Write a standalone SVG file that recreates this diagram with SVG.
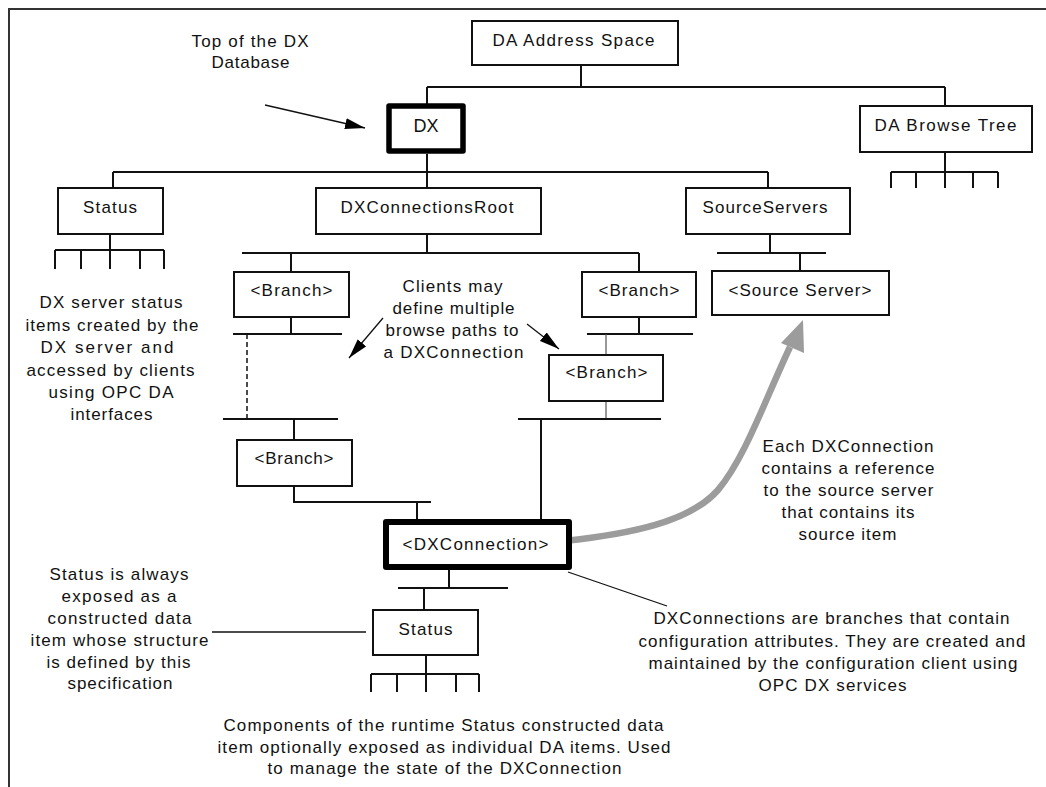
<svg xmlns="http://www.w3.org/2000/svg" width="1046" height="787" viewBox="0 0 1046 787">
  <style>
    text { font-family: "Liberation Sans", Arial, sans-serif; font-size: 17px; fill: #111; text-anchor: middle; }
    .box { fill: #fff; stroke: #111; stroke-width: 2; }
    .key { fill: #fff; stroke: #000; stroke-linejoin: round; }
    .ln { fill: none; stroke: #111; stroke-width: 2; }
    .thin { fill: none; stroke: #555; stroke-width: 1.2; }
    .dash { fill: none; stroke: #111; stroke-width: 1.5; stroke-dasharray: 5 3; }
    .note { fill: none; stroke: #111; stroke-width: 1.3; }
    .ref { fill: none; stroke: #9c9c9c; stroke-width: 6.5; }
  </style>
  <defs>
    <marker id="head" viewBox="0 0 20 11" refX="20" refY="5.5" markerWidth="20" markerHeight="11" markerUnits="userSpaceOnUse" orient="auto">
      <path d="M0,0 L20,5.5 L0,11 z" fill="#000"/>
    </marker>
  </defs>

  <rect width="1046" height="787" fill="#fff"/>
  <!-- page frame -->
  <path d="M9,787 V9 H1046" fill="none" stroke="#333" stroke-width="2"/>

  <g id="connectors">
    <!-- address space to DX and browse tree -->
    <path class="ln" d="M581,65 V87 M427,87 H945 M427,87 V104 M945,87 V106"/>
    <!-- DX children -->
    <path class="ln" d="M427,154 V172 M113,172 H768 M113,172 V188 M427,172 V188 M768,172 V188"/>
    <!-- browse tree rake -->
    <path class="ln" d="M945,152 V172 M891,172 H998 M891,172 V188 M916,172 V188 M945,172 V188 M973,172 V188 M998,172 V188"/>
    <!-- status items rake -->
    <path class="ln" d="M110,234 V250 M55,250 H164 M55,250 V269 M81,250 V269 M110,250 V269 M140,250 V269 M164,250 V269"/>
    <!-- connections root -->
    <path class="ln" d="M427,234 V253 M242,253 H639 M291,253 V272 M639,253 V272"/>
    <!-- source servers -->
    <path class="ln" d="M770,234 V253 M717,253 H826 M800,253 V271"/>
    <!-- left browse path -->
    <path class="ln" d="M291,317 V334 M233,334 H342"/>
    <path class="dash" d="M247,334 V419"/>
    <path class="ln" d="M223,419 H338 M294,419 V440 M294,486 V502 H431 M417,502 V520"/>
    <!-- right browse path -->
    <path class="ln" d="M639,317 V334 M587,334 H693"/>
    <path class="thin" d="M606,334 V355 M606,401 V419"/>
    <path class="ln" d="M518,419 H661 M541,419 V520"/>
    <!-- connection status -->
    <path class="ln" d="M449,570 V588 M398,588 H508 M424,588 V610"/>
    <path class="ln" d="M426,655 V674 M371,674 H479 M371,674 V692 M397,674 V692 M426,674 V692 M456,674 V692 M479,674 V692"/>
    <!-- reference to source server -->
    <path class="ref" d="M564,541 C630,534 690,522 718,490 C745,458 765,400 790,347"/>
    <polygon points="803,320 781,343 804,353" fill="#9c9c9c"/>
    <!-- callouts -->
    <path class="note" d="M265,105 L365,128" marker-end="url(#head)"/>
    <path class="note" d="M383,318 L349,358" marker-end="url(#head)"/>
    <path class="note" d="M527,324 L559,349" marker-end="url(#head)"/>
    <path class="note" d="M568,572 L667,606"/>
    <path class="note" d="M212,632 H366"/>
  </g>

  <g id="da-address-space">
    <rect class="box" x="472" y="21" width="206" height="44"/>
    <text x="573.5" y="46" textLength="162">DA Address Space</text>
  </g>
  <g id="dx">
    <rect class="key" x="389" y="106" width="74" height="45" stroke-width="5.5"/>
    <text x="426" y="132" style="font-size:18px">DX</text>
  </g>
  <g id="da-browse-tree">
    <rect class="box" x="860" y="106" width="172" height="46"/>
    <text x="945.5" y="131" textLength="142">DA Browse Tree</text>
  </g>
  <g id="status">
    <rect class="box" x="58" y="188" width="105" height="46"/>
    <text x="110" y="213" textLength="54">Status</text>
  </g>
  <g id="dx-connections-root">
    <rect class="box" x="316" y="188" width="225" height="46"/>
    <text x="427" y="213" textLength="173">DXConnectionsRoot</text>
  </g>
  <g id="source-servers">
    <rect class="box" x="686" y="188" width="164" height="46"/>
    <text x="765" y="213" textLength="125">SourceServers</text>
  </g>
  <g id="branch-left">
    <rect class="box" x="234" y="272" width="115" height="45"/>
    <text x="291.5" y="296" textLength="82">&lt;Branch&gt;</text>
  </g>
  <g id="branch-right">
    <rect class="box" x="582" y="272" width="114" height="45"/>
    <text x="639" y="296" textLength="81">&lt;Branch&gt;</text>
  </g>
  <g id="source-server">
    <rect class="box" x="712" y="271" width="177" height="44"/>
    <text x="800" y="296" textLength="143">&lt;Source Server&gt;</text>
  </g>
  <g id="branch-middle">
    <rect class="box" x="549" y="355" width="114" height="46"/>
    <text x="606.5" y="378" textLength="82">&lt;Branch&gt;</text>
  </g>
  <g id="branch-lower">
    <rect class="box" x="237" y="440" width="115" height="46"/>
    <text x="294" y="464" textLength="79">&lt;Branch&gt;</text>
  </g>
  <g id="dx-connection">
    <rect class="key" x="386" y="522" width="183" height="45" stroke-width="6"/>
    <text x="475.5" y="550" textLength="146">&lt;DXConnection&gt;</text>
  </g>
  <g id="connection-status">
    <rect class="box" x="373" y="610" width="105" height="45"/>
    <text x="425.5" y="635" textLength="54">Status</text>
  </g>

  <g id="notes">
    <text x="250" y="47" textLength="117">Top of the DX</text>
    <text x="250.5" y="68" textLength="78">Database</text>

    <text x="111" y="308" textLength="143">DX server status</text>
    <text x="112" y="330.5" textLength="173">items created by the</text>
    <text x="107" y="353" textLength="133">DX server and</text>
    <text x="110.5" y="375.5" textLength="168">accessed by clients</text>
    <text x="111" y="398" textLength="125">using OPC DA</text>
    <text x="111.5" y="420" textLength="82">interfaces</text>

    <text x="452.5" y="292" textLength="100">Clients may</text>
    <text x="453.5" y="314" textLength="122">define multiple</text>
    <text x="452" y="336" textLength="133">browse paths to</text>
    <text x="453.5" y="358" textLength="140">a DXConnection</text>

    <text x="848" y="451.5" textLength="171">Each DXConnection</text>
    <text x="848" y="473.5" textLength="173">contains a reference</text>
    <text x="848.5" y="496" textLength="170">to the source server</text>
    <text x="848" y="518" textLength="133">that contains its</text>
    <text x="847.5" y="540" textLength="98">source item</text>

    <text x="119" y="580" textLength="139">Status is always</text>
    <text x="119" y="602" textLength="115">exposed as a</text>
    <text x="119.5" y="623.5" textLength="144">constructed data</text>
    <text x="119.5" y="646" textLength="178">item whose structure</text>
    <text x="118.5" y="668" textLength="144">is defined by this</text>
    <text x="120" y="689" textLength="105">specification</text>

    <text x="831.5" y="624" textLength="356">DXConnections are branches that contain</text>
    <text x="832" y="646.5" textLength="387">configuration attributes. They are created and</text>
    <text x="833" y="669" textLength="369">maintained by the configuration client using</text>
    <text x="832.5" y="691" textLength="148">OPC DX services</text>

    <text x="443.5" y="731" textLength="440">Components of the runtime Status constructed data</text>
    <text x="444" y="752.5" textLength="453">item optionally exposed as individual DA items. Used</text>
    <text x="444.5" y="774" textLength="354">to manage the state of the DXConnection</text>
  </g>
</svg>
